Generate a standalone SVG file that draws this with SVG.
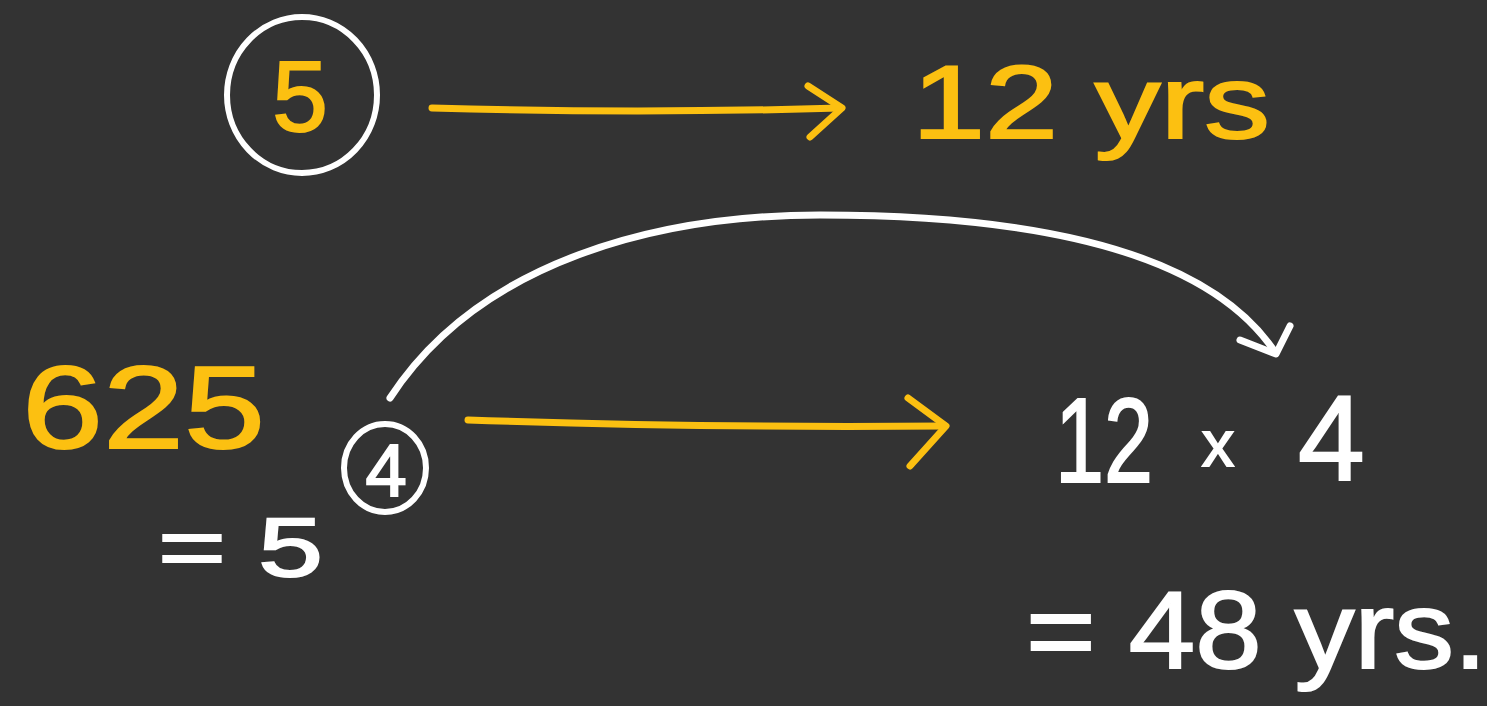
<svg xmlns="http://www.w3.org/2000/svg" width="1487" height="706" viewBox="0 0 1487 706">
  <style>
    .ink { fill: none; stroke-linecap: round; stroke-linejoin: round; }
    .white { stroke: #ffffff; }
    .yellow { stroke: #fcc011; }
    .tw { fill: #ffffff; stroke: #ffffff; stroke-width: 2; font-family: "Liberation Sans", Arial, sans-serif; }
    .ty { fill: #fcc011; stroke: #fcc011; stroke-width: 2; font-family: "Liberation Sans", Arial, sans-serif; }
  </style>
  <rect width="1487" height="706" fill="#333333"/>

  <!-- base 5, circled -->
  <g id="node-base-five">
    <ellipse cx="302" cy="95" rx="75" ry="78" class="ink white" stroke-width="6"/>
    <text x="300" y="131" font-size="100" text-anchor="middle" class="ty">5</text>
  </g>

  <!-- 12 yrs -->
  <g id="node-twelve-years">
    <text x="912" y="138" font-size="104" textLength="358" lengthAdjust="spacingAndGlyphs" class="ty">12 yrs</text>
  </g>

  <!-- 625 -->
  <g id="node-625">
    <text x="22" y="448" font-size="116" textLength="243" lengthAdjust="spacingAndGlyphs" class="ty">625</text>
  </g>

  <!-- = 5 with circled exponent 4 -->
  <g id="node-power">
    <text x="158" y="576" font-size="84" textLength="165" lengthAdjust="spacingAndGlyphs" class="tw">= 5</text>
    <ellipse cx="385" cy="468" rx="41" ry="44" class="ink white" stroke-width="6"/>
    <text x="386" y="496" font-size="74" text-anchor="middle" class="tw">4</text>
  </g>

  <!-- 12 x 4 -->
  <g id="node-product">
    <text x="1055" y="482" font-size="120" textLength="98" lengthAdjust="spacingAndGlyphs" class="tw">12</text>
    <text x="1202" y="466" font-size="64" class="tw">x</text>
    <text x="1298" y="480" font-size="120" class="tw">4</text>
  </g>

  <!-- = 48 yrs. -->
  <g id="node-result">
    <text x="1026" y="668" font-size="110" textLength="461" lengthAdjust="spacingAndGlyphs" class="tw">= 48 yrs.</text>
  </g>

  <!-- connectors -->
  <g id="connectors">
    <path d="M432 108 Q640 114 840 108" class="ink yellow" stroke-width="7"/>
    <path d="M808 86 L842 108 L810 137" class="ink yellow" stroke-width="7"/>

    <path d="M468 420 Q700 428 945 426" class="ink yellow" stroke-width="7"/>
    <path d="M908 398 L946 426 L910 466" class="ink yellow" stroke-width="7"/>

    <path d="M390 398 C480 260 660 215 820 215 C1000 215 1200 240 1275 352" class="ink white" stroke-width="7"/>
    <path d="M1240 340 L1276 354 L1290 326" class="ink white" stroke-width="7"/>
  </g>
</svg>
